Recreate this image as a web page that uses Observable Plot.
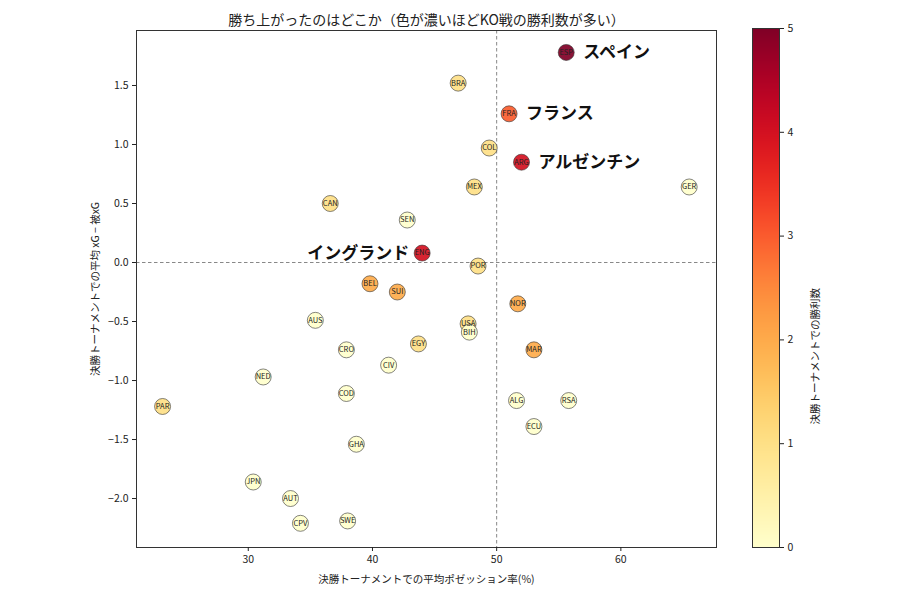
<!DOCTYPE html>
<html>
<head>
<meta charset="utf-8">
<script src="https://cdn.jsdelivr.net/npm/d3@7"></script>
<script src="https://cdn.jsdelivr.net/npm/@observablehq/plot@0.6"></script>
<style>
  body { margin: 0; background: #fff; }
  #chart { position: relative; width: 900px; height: 600px; }
  #chart svg { position: absolute; left: 0; top: 0; }
</style>
</head>
<body>
<div id="chart"></div>
<script>
// Knockout-stage summary per team
const teams      = ["ESP","BRA","FRA","COL","ARG","MEX","GER","CAN","SEN","ENG","POR","BEL","SUI","NOR","AUS","USA",
                    "BIH","CRO","EGY","MAR","CIV","NED","COD","PAR","ALG","RSA","ECU","GHA","JPN","AUT","CPV","SWE"];
const possession = [55.6, 46.9, 51.0, 49.4, 52.0, 48.2, 65.5, 36.6, 42.8, 44.0, 48.5, 39.8, 42.0, 51.7, 35.4, 47.7,
                    47.8, 37.9, 43.7, 53.0, 41.3, 31.2, 37.9, 23.1, 51.6, 55.8, 53.0, 38.7, 30.4, 33.4, 34.2, 38.0];
const xgDiff     = [1.78, 1.52, 1.26, 0.97, 0.85, 0.64, 0.64, 0.50, 0.36, 0.08, -0.03, -0.18, -0.25, -0.35, -0.49, -0.52,
                    -0.59, -0.74, -0.69, -0.74, -0.87, -0.97, -1.11, -1.22, -1.17, -1.17, -1.39, -1.54, -1.86, -2.00, -2.21, -2.19];
const koWins     = [5, 1, 3, 1, 4, 1, 0, 1, 0, 4, 1, 2, 2, 2, 0, 1,
                    0, 0, 1, 2, 0, 0, 0, 1, 0, 0, 0, 0, 0, 0, 0, 0];

// Teams called out by name
const calloutRight = ["ESP", "FRA", "ARG"];
const calloutRightNames = ["スペイン", "フランス", "アルゼンチン"];
const calloutLeft = ["ENG"];
const calloutLeftNames = ["イングランド"];

// Axis ticks and text
const xTicks = [30, 40, 50, 60];
const yTicks = [-2.0, -1.5, -1.0, -0.5, 0.0, 0.5, 1.0, 1.5];
const winTicks = [0, 1, 2, 3, 4, 5];
const titleText = "勝ち上がったのはどこか（色が濃いほどKO戦の勝利数が多い）";
const xLabel = "決勝トーナメントでの平均ポゼッション率(%)";
const yLabel = "決勝トーナメントでの平均 xG − 被xG";
const barLabel = "決勝トーナメントでの勝利数";

const rows = teams.map((t, i) => ({team: t, pos: possession[i], diff: xgDiff[i], wins: koWins[i]}));
const byTeam = new Map(rows.map(d => [d.team, d]));
const rightNotes = calloutRight.map((t, i) => ({...byTeam.get(t), name: calloutRightNames[i]}));
const leftNotes = calloutLeft.map((t, i) => ({...byTeam.get(t), name: calloutLeftNames[i]}));

const font = "'Noto Sans CJK JP', 'DejaVu Sans', sans-serif";
const colorScale = {type: "linear", scheme: "ylorrd", domain: [0, 5]};

const main = Plot.plot({
  width: 900,
  height: 600,
  marginTop: 30,
  marginLeft: 136,
  marginRight: 184,
  marginBottom: 53,
  style: {fontFamily: font, fontSize: "10px", color: "#222", background: "transparent"},
  x: {domain: [21.0, 67.7]},
  y: {domain: [-2.415, 1.966]},
  color: colorScale,
  marks: [
    Plot.ruleX([50], {stroke: "#888", strokeWidth: 1, strokeDasharray: "3.5,2.5"}),
    Plot.ruleY([0], {stroke: "#888", strokeWidth: 1, strokeDasharray: "3.5,2.5"}),
    Plot.frame({stroke: "#333", strokeWidth: 1}),
    Plot.axisX({ticks: xTicks, tickSize: 4, tickPadding: 4, label: xLabel, labelAnchor: "center", labelOffset: 35, labelArrow: "none", fontSize: 10.5}),
    Plot.axisY({ticks: yTicks, tickSize: 4, tickPadding: 4, tickFormat: d3.format(".1f"), label: yLabel, labelAnchor: "center", labelOffset: 45, labelArrow: "none", fontSize: 10.5}),
    Plot.dot(rows, {x: "pos", y: "diff", fill: "wins", r: 8, fillOpacity: 0.92, stroke: "#333", strokeWidth: 0.6}),
    Plot.text(rows, {x: "pos", y: "diff", text: "team", fontSize: 7.5, fill: "#222"}),
    Plot.text(rightNotes, {x: "pos", y: "diff", text: "name", dx: 17, textAnchor: "start", fontSize: 17, fontWeight: "bold", fill: "#111"}),
    Plot.text(leftNotes, {x: "pos", y: "diff", text: "name", dx: -13, textAnchor: "end", fontSize: 17, fontWeight: "bold", fill: "#111"}),
    Plot.text([titleText], {frameAnchor: "top", dy: -15, fontSize: 14, fill: "#222"})
  ]
});

// Vertical colour bar for the number of knockout wins
const bar = Plot.plot({
  width: 900,
  height: 600,
  marginTop: 28,
  marginLeft: 752,
  marginRight: 121,
  marginBottom: 53,
  style: {fontFamily: font, fontSize: "10.5px", color: "#222", background: "transparent"},
  x: {domain: [0, 1], axis: null},
  y: {domain: [0, 5]},
  color: colorScale,
  marks: [
    Plot.raster({fill: (x, y) => y, x1: 0, x2: 1, y1: 0, y2: 5}),
    Plot.frame({stroke: "#333", strokeWidth: 1}),
    Plot.axisY({anchor: "right", ticks: winTicks, tickSize: 4, tickPadding: 4, tickFormat: d3.format("d"), label: null}),
    Plot.text([barLabel], {frameAnchor: "right", rotate: -90, dx: 36, fontSize: 10.5, fill: "#222"})
  ]
});

const chart = document.getElementById("chart");
chart.appendChild(main);
chart.appendChild(bar);
</script>
</body>
</html>
